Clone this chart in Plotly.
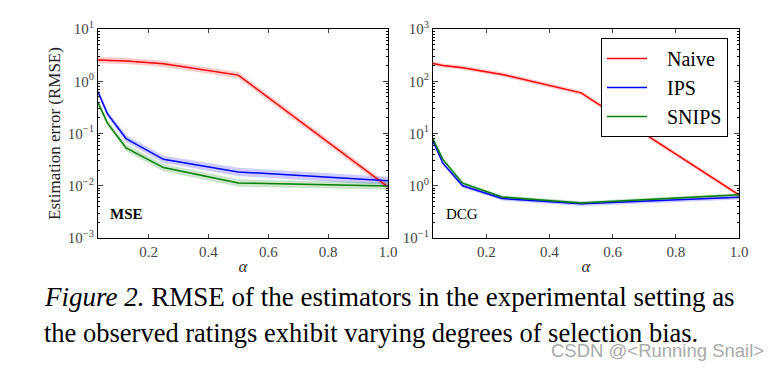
import plotly.graph_objects as go

alpha = [0.03125, 0.0625, 0.125, 0.25, 0.5, 1.0]

# MSE panel (RMSE values)
mse_naive = [2.55, 2.5, 2.45, 2.16, 1.31, 0.0095]
mse_ips = [0.63, 0.24, 0.08, 0.032, 0.0184, 0.0124]
mse_snips = [0.39, 0.16, 0.053, 0.0223, 0.0113, 0.0099]
# half-width of shaded band (log10 units)
mse_naive_spread = [0.06, 0.06, 0.06, 0.06, 0.06, 0.06]
mse_ips_spread = [0.06, 0.06, 0.07, 0.07, 0.08, 0.08]
mse_snips_spread = [0.06, 0.06, 0.07, 0.07, 0.07, 0.07]

# DCG panel
dcg_naive = [220, 200, 182, 135, 60, 0.67]
dcg_ips = [7.1, 2.7, 1.0, 0.57, 0.45, 0.6]
dcg_snips = [7.8, 3.2, 1.12, 0.61, 0.47, 0.67]
dcg_naive_spread = [0.04, 0.04, 0.04, 0.04, 0.04, 0.04]
dcg_ips_spread = [0.04, 0.04, 0.04, 0.04, 0.04, 0.04]
dcg_snips_spread = [0.03, 0.03, 0.03, 0.03, 0.03, 0.03]

mse_yticks = [0.001, 0.01, 0.1, 1, 10]
mse_yticktext = ["10<sup>−3</sup>", "10<sup>−2</sup>", "10<sup>−1</sup>", "10<sup>0</sup>", "10<sup>1</sup>"]
dcg_yticks = [0.1, 1, 10, 100, 1000]
dcg_yticktext = ["10<sup>−1</sup>", "10<sup>0</sup>", "10<sup>1</sup>", "10<sup>2</sup>", "10<sup>3</sup>"]
xticks = [0.2, 0.4, 0.6, 0.8, 1.0]
xticktext = ["0.2", "0.4", "0.6", "0.8", "1.0"]

series_names = ["Naive", "IPS", "SNIPS"]
colors = ["#ff0000", "#0000ff", "#008000"]
fills = ["rgba(255,0,0,0.2)", "rgba(0,0,255,0.2)", "rgba(0,128,0,0.2)"]

SERIF = "'Liberation Serif', 'Times New Roman', 'DejaVu Serif', serif"
NBSP = "\u00a0"
fig = go.Figure()

panels = [
    ("x", "y", [mse_naive, mse_ips, mse_snips], [mse_naive_spread, mse_ips_spread, mse_snips_spread]),
    ("x2", "y2", [dcg_naive, dcg_ips, dcg_snips], [dcg_naive_spread, dcg_ips_spread, dcg_snips_spread]),
]
for pi, (xa, ya, vals, spreads) in enumerate(panels):
    for si in range(3):
        v = vals[si]
        s = spreads[si]
        upper = [val * 10 ** sp for val, sp in zip(v, s)]
        lower = [val / 10 ** sp for val, sp in zip(v, s)]
        fig.add_trace(go.Scatter(x=alpha + alpha[::-1], y=upper + lower[::-1], fill="toself",
                                 fillcolor=fills[si], line=dict(width=0), mode="lines",
                                 hoverinfo="skip", showlegend=False, xaxis=xa, yaxis=ya))
    for si in range(3):
        fig.add_trace(go.Scatter(x=alpha, y=vals[si], mode="lines",
                                 name=NBSP * 3 + series_names[si],
                                 line=dict(color=colors[si], width=1.5),
                                 showlegend=(pi == 1), xaxis=xa, yaxis=ya))

# page body has an 8px margin; figure is sized to fit the remaining window
OFF = 8
W, H = 779 - OFF, 368 - OFF
def px_x(p):
    return (p - OFF) / W
def px_y(p):
    return 1 - (p - OFF) / H

tickfont = dict(family=SERIF, size=15, color="#444")
common_x = dict(range=[0.03125, 1.0], tickvals=xticks, ticktext=xticktext,
                ticks="inside", ticklen=4, mirror="ticks", showline=True, linecolor="black",
                linewidth=1, showgrid=False, zeroline=False, tickfont=tickfont, automargin=False,
                title=dict(text="<i>α</i>", font=dict(family=SERIF, size=17, color="#333"), standoff=1))
common_y = dict(type="log", ticks="inside", ticklen=5, automargin=False,
                mirror="ticks", showline=True, linecolor="black", linewidth=1, showgrid=False,
                zeroline=False, tickfont=tickfont,
                minor=dict(ticks="inside", ticklen=2, tickcolor="black", showgrid=False, dtick="D1"))

fig.update_layout(
    width=W, height=H, margin=dict(l=0, r=0, t=0, b=0, autoexpand=False),
    paper_bgcolor="white", plot_bgcolor="white",
    xaxis=dict(domain=[px_x(98), px_x(388)], anchor="y", **common_x),
    xaxis2=dict(domain=[px_x(433), px_x(739)], anchor="y2", **common_x),
    yaxis=dict(domain=[px_y(238), px_y(29)], anchor="x", range=[-3, 1],
               tickvals=mse_yticks, ticktext=mse_yticktext,
               title=dict(text="Estimation error (RMSE)", font=dict(family=SERIF, size=17, color="#222"), standoff=2),
               **common_y),
    yaxis2=dict(domain=[px_y(238), px_y(29)], anchor="x2", range=[-1, 3],
                tickvals=dcg_yticks, ticktext=dcg_yticktext, **common_y),
    legend=dict(x=px_x(601), y=px_y(38), xanchor="left", yanchor="top",
                bordercolor="black", borderwidth=1, bgcolor="white",
                font=dict(family=SERIF, size=20, color="black"), itemwidth=40,
                tracegroupgap=0),
    showlegend=True,
)

fig.add_annotation(x=0.065, y=-2.55, xref="x", yref="y", text="<b>MSE</b>", showarrow=False,
                   xanchor="left", font=dict(family=SERIF, size=15, color="black"))
fig.add_annotation(x=0.065, y=-0.55, xref="x2", yref="y2", text="DCG", showarrow=False,
                   xanchor="left", font=dict(family=SERIF, size=15, color="black"))

fig.add_annotation(x=px_x(42), y=px_y(297), xref="paper", yref="paper", xanchor="left", yanchor="middle",
                   text="<i>Figure 2.</i> RMSE of the estimators in the experimental setting as",
                   showarrow=False, font=dict(family=SERIF, size=27, color="black"))
fig.add_annotation(x=px_x(42), y=px_y(333), xref="paper", yref="paper", xanchor="left", yanchor="middle",
                   text="the observed ratings exhibit varying degrees of selection bias.",
                   showarrow=False, font=dict(family=SERIF, size=26.5, color="black"))
fig.add_annotation(x=px_x(766), y=px_y(350), xref="paper", yref="paper", xanchor="right", yanchor="middle",
                   text="CSDN @&lt;Running Snail&gt;", showarrow=False,
                   font=dict(family="'Liberation Sans Narrow', 'Liberation Sans', sans-serif", size=18.5, color="#aaaaaa"))

fig.write_html("out.html")
